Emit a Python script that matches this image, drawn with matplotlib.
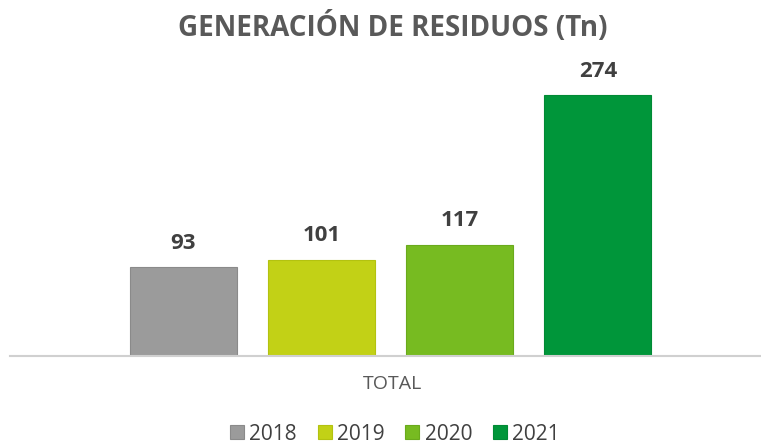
import matplotlib.pyplot as plt

years = ['2018', '2019', '2020', '2021']
values = [93, 101, 117, 274]
colors = ['#9b9b9b', '#c2d116', '#77bb21', '#00963a']
edges = ['#8a8a8a', '#b3c210', '#6aaa1c', '#008a35']

plt.rcParams['font.family'] = ['Open Sans', 'DejaVu Sans']

fig = plt.figure(figsize=(7.61, 4.45), dpi=100)
ax = fig.add_axes([10 / 761, 0.2, 751 / 761, 0.6422])

for i, (y, v) in enumerate(zip(years, values)):
    ax.bar(i, v, width=0.775, color=colors[i], edgecolor=edges[i],
           linewidth=0.8, label=y)
    ax.text(i, v + 14, str(v), ha='center', va='bottom', fontsize=16,
            fontweight='bold', color='#404040')

ax.set_xlim(-1.255, 4.18)
ax.set_ylim(0, 300)
for s in ['top', 'right', 'left']:
    ax.spines[s].set_visible(False)
ax.spines['bottom'].set_color('#d0d0d0')
ax.spines['bottom'].set_linewidth(1.5)
ax.set_yticks([])
ax.set_xticks([])

fig.text(392 / 761, 1 - 384 / 445, 'TOTAL', ha='center', va='center',
         fontsize=14, color='#595959')
fig.text(393 / 761, 1 - 27 / 445, 'GENERACIÓN DE RESIDUOS (Tn)', ha='center',
         va='center', fontsize=20, fontweight='bold', color='#595959')

fig.legend(loc='center', bbox_to_anchor=(395 / 761, 1 - 434 / 445), ncol=4,
           frameon=False, fontsize=15, handlelength=0.67, handleheight=0.67,
           handletextpad=0.25, columnspacing=1.0, labelcolor='#404040')

fig.savefig('out.png', dpi=100)
